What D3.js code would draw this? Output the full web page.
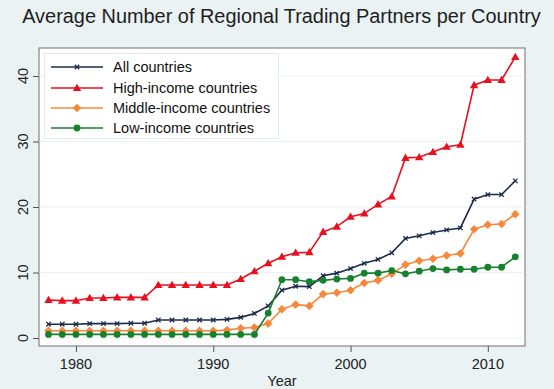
<!DOCTYPE html>
<html><head><meta charset="utf-8">
<script src="https://cdn.jsdelivr.net/npm/d3@7"></script>
<style>body{margin:0;background:#eaf2f3;}svg{display:block;font-family:"Liberation Sans",Arial,sans-serif;}</style>
</head><body>
<svg id="c" width="554" height="389"></svg>
<script>
const years = d3.range(1978, 2013);
const allCountries = [2.1,2.1,2.1,2.2,2.2,2.2,2.25,2.25,2.75,2.75,2.75,2.75,2.75,2.85,3.15,3.75,4.9,7.3,7.9,7.85,9.5,9.9,10.6,11.4,12.0,13.0,15.2,15.6,16.1,16.5,16.8,21.2,21.9,21.9,24.0];
const highIncome = [5.8,5.7,5.7,6.1,6.1,6.2,6.2,6.2,8.1,8.1,8.1,8.1,8.1,8.1,9.0,10.2,11.4,12.4,13.0,13.1,16.2,17.0,18.5,19.0,20.4,21.6,27.5,27.6,28.4,29.2,29.5,38.6,39.4,39.4,42.9];
const middleIncome = [1.1,1.1,1.1,1.1,1.1,1.1,1.1,1.1,1.1,1.1,1.1,1.1,1.1,1.2,1.5,1.6,2.2,4.4,5.1,4.9,6.7,6.9,7.3,8.4,8.8,9.8,11.2,11.8,12.1,12.6,12.9,16.6,17.3,17.4,18.9];
const lowIncome = [0.55,0.55,0.55,0.55,0.55,0.55,0.55,0.55,0.55,0.55,0.55,0.55,0.55,0.55,0.55,0.55,3.8,8.9,8.9,8.6,8.8,9.0,9.1,9.9,9.9,10.3,9.8,10.2,10.6,10.4,10.5,10.5,10.8,10.8,12.4];
const seriesNames = ["All countries","High-income countries","Middle-income countries","Low-income countries"];
const seriesColors = ["#1c2a4a","#e8101e","#f7883b","#17812d"];
const seriesSymbols = ["x","triangle","diamond","circle"];
const xTicks = [1980,1990,2000,2010];
const yTicks = [0,10,20,30,40];
const titleText = "Average Number of Regional Trading Partners per Country";
const xTitle = "Year";

const FONT = "Liberation Sans, Arial, sans-serif";
const svg = d3.select("#c");
const box = {l:39, t:48, r:525, b:346};
const x = d3.scaleLinear().domain([1978,2012]).range([48.5,515.3]);
const y = d3.scaleLinear().domain([0,40]).range([338,76]);

svg.append("rect").attr("width",554).attr("height",389).attr("fill","#eaf2f3");
svg.append("rect").attr("x",box.l).attr("y",box.t).attr("width",box.r-box.l).attr("height",box.b-box.t)
  .attr("fill","#fff").attr("stroke","#6e6e6e").attr("stroke-width",1);

// grid
svg.append("g").selectAll("line").data(yTicks).join("line")
  .attr("x1",box.l+0.5).attr("x2",box.r-0.5).attr("y1",d=>y(d)).attr("y2",d=>y(d))
  .attr("stroke","#eaf2f3").attr("stroke-width",1.2);

// y axis
const ya = svg.append("g").attr("transform",`translate(${box.l},0)`)
  .call(d3.axisLeft(y).tickValues(yTicks).tickSize(6).tickFormat(""));
ya.select(".domain").remove();
ya.selectAll("line").attr("stroke","#555");
svg.append("g").selectAll("text").data(yTicks).join("text")
  .attr("transform",d=>`translate(28,${y(d)}) rotate(-90)`)
  .attr("text-anchor","middle").attr("font-size",14.5).attr("fill","#222").attr("font-family",FONT)
  .text(d=>d3.format("d")(d));

// x axis
const xa = svg.append("g").attr("transform",`translate(0,${box.b})`)
  .call(d3.axisBottom(x).tickValues(xTicks).tickSize(6).tickFormat(""));
xa.select(".domain").remove();
xa.selectAll("line").attr("stroke","#555");
svg.append("g").selectAll("text").data(xTicks).join("text")
  .attr("x",d=>x(d)).attr("y",369).attr("text-anchor","middle")
  .attr("font-size",14.5).attr("fill","#222").attr("font-family",FONT).text(d=>d);

svg.append("text").attr("x",(box.l+box.r)/2).attr("y",385.5).attr("text-anchor","middle")
  .attr("font-size",14.5).attr("fill","#222").attr("font-family",FONT).text(xTitle);

const title = svg.append("text").attr("x",281.5).attr("y",23).attr("text-anchor","middle")
  .attr("font-size",18.5).attr("fill","#1e1e1e").attr("font-family",FONT).text(titleText);
const tw = title.node().getComputedTextLength();
title.attr("font-size", 18.5*519/tw);

const data = [allCountries, highIncome, middleIncome, lowIncome];
const line = d3.line().x((d,i)=>x(years[i])).y(d=>y(d));

function marker(g, sym, color, cx, cy){
  if(sym==="x"){
    const s=2.2;
    g.append("path").attr("d",`M${cx-s},${cy-s}L${cx+s},${cy+s}M${cx-s},${cy+s}L${cx+s},${cy-s}`)
      .attr("stroke",color).attr("stroke-width",1.3).attr("fill","none");
  } else if(sym==="triangle"){
    g.append("path").attr("d",`M${cx},${cy-4.3}L${cx+4.2},${cy+3}L${cx-4.2},${cy+3}Z`).attr("fill",color);
  } else if(sym==="diamond"){
    g.append("path").attr("d",`M${cx},${cy-4.3}L${cx+4.3},${cy}L${cx},${cy+4.3}L${cx-4.3},${cy}Z`).attr("fill",color);
  } else {
    g.append("circle").attr("cx",cx).attr("cy",cy).attr("r",3.4).attr("fill",color);
  }
}

data.forEach((vals,si)=>{
  const g = svg.append("g");
  g.append("path").datum(vals).attr("d",line).attr("fill","none")
    .attr("stroke",seriesColors[si]).attr("stroke-width",1.6);
  vals.forEach((v,i)=>marker(g, seriesSymbols[si], seriesColors[si], x(years[i]), y(v)));
});

// legend
const lg = svg.append("g");
lg.append("rect").attr("x",44.5).attr("y",53.5).attr("width",234).attr("height",85)
  .attr("fill","#fff").attr("stroke","#e3ebed").attr("stroke-width",1);
const ly = [67,88,108,128];
seriesNames.forEach((n,i)=>{
  lg.append("line").attr("x1",51).attr("x2",103).attr("y1",ly[i]).attr("y2",ly[i])
    .attr("stroke",seriesColors[i]).attr("stroke-width",1.6);
  marker(lg, seriesSymbols[i], seriesColors[i], 77, ly[i]);
  lg.append("text").attr("x",113).attr("y",ly[i]+5).attr("font-size",14.5).attr("fill","#111")
    .attr("font-family",FONT).text(n);
});
</script>
</body></html>
